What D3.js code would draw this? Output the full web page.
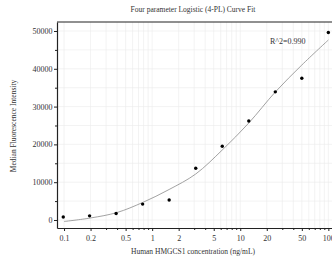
<!DOCTYPE html>
<html lang="en">
<head>
<meta charset="UTF-8">
<title>4-PL Curve Fit</title>
<style>
    body { margin: 0; background: #fff; }
    text { font-family: "Liberation Serif", "DejaVu Serif", serif; fill: #333; }
    .grid line { stroke: #ebebeb; stroke-width: 0.6px; }
    .axis path, .axis line { stroke: #222; }
    .axis text { fill: #333; }
</style>
</head>
<body>
<div id="chart"></div>
<script src="https://d3js.org/d3.v7.min.js"></script>
<script>
    // standard concentrations (ng/mL) and measured MFI
    var conc = [0.098, 0.195, 0.39, 0.78, 1.56, 3.125, 6.25, 12.5, 25, 50, 100];
    var mfi = [800, 1100, 1700, 4200, 5300, 13700, 19500, 26200, 33900, 37500, 49600];

    // fitted curve
    var fitX = [0.1, 0.2, 0.4, 0.78, 1.56, 3.125, 6.25, 12.5, 25, 50, 100];
    var fitY = [-400, 530, 1980, 4630, 8070, 12170, 18520, 25660, 33860, 41000, 47620];

    var xTicks = [0.1, 0.2, 0.5, 1, 2, 5, 10, 20, 50, 100];
    var yTicks = [0, 10000, 20000, 30000, 40000, 50000];

    var width = 332, height = 264;
    var plot = {left: 57, right: 332, top: 22, bottom: 228};

    var svg = d3.select("#chart").append("svg")
        .attr("width", width)
        .attr("height", height);

    var x = d3.scaleLog().domain([0.0832, 110]).range([plot.left, plot.right]);
    var y = d3.scaleLinear().domain([-2120, 52380]).range([plot.bottom, plot.top]);

    // grid: every 1..9 multiple on x, every 5000 on y
    var xMinor = [];
    [0.1, 1, 10].forEach(function (d) {
        for (var k = 1; k < 10; k++) xMinor.push(+(d * k).toPrecision(3));
    });
    xMinor.push(100);
    var yMinor = d3.range(0, 50001, 5000);

    var grid = svg.append("g").attr("class", "grid");
    grid.selectAll(".gx").data(xMinor).enter().append("line")
        .attr("x1", function (d) { return x(d); })
        .attr("x2", function (d) { return x(d); })
        .attr("y1", plot.top).attr("y2", plot.bottom);
    grid.selectAll(".gy").data(yMinor).enter().append("line")
        .attr("x1", plot.left).attr("x2", plot.right)
        .attr("y1", function (d) { return y(d); })
        .attr("y2", function (d) { return y(d); });

    // axes
    var xAxis = svg.append("g").attr("class", "axis")
        .attr("transform", "translate(0," + plot.bottom + ")")
        .call(d3.axisBottom(x).tickValues(xTicks).tickFormat(d3.format("~g")).tickSize(3).tickSizeOuter(0));
    svg.append("g").attr("class", "axis")
        .attr("transform", "translate(0," + plot.bottom + ")")
        .call(d3.axisBottom(x).tickValues(xMinor.filter(function (d) {
            return xTicks.indexOf(d) < 0;
        })).tickFormat("").tickSize(2).tickSizeOuter(0))
        .select(".domain").remove();
    var yAxis = svg.append("g").attr("class", "axis")
        .attr("transform", "translate(" + plot.left + ",0)")
        .call(d3.axisLeft(y).tickValues(yTicks).tickSize(3).tickFormat(d3.format("d")).tickSizeOuter(0));
    svg.append("g").attr("class", "axis")
        .attr("transform", "translate(" + plot.left + ",0)")
        .call(d3.axisLeft(y).tickValues(d3.range(5000, 50000, 10000)).tickSize(2).tickFormat("").tickSizeOuter(0))
        .select(".domain").remove();

    svg.selectAll(".axis text").style("font-size", "8px").style("font-family", "Liberation Serif");
    xAxis.selectAll("text").attr("dy", "0.9em");
    yAxis.selectAll("text").attr("x", -4.5);
    svg.selectAll(".axis path.domain").attr("stroke-width", 1.2);

    // top border
    svg.append("line")
        .attr("x1", plot.left).attr("x2", plot.right)
        .attr("y1", plot.top).attr("y2", plot.top)
        .attr("stroke", "#222").attr("stroke-width", 1.2);

    // fitted curve
    var pts = fitX.map(function (d, i) { return [d, fitY[i]]; });
    svg.append("path")
        .datum(pts)
        .attr("fill", "none")
        .attr("stroke", "#8a8a8a")
        .attr("stroke-width", 0.8)
        .attr("d", d3.line()
            .x(function (d) { return x(d[0]); })
            .y(function (d) { return y(d[1]); })
            .curve(d3.curveCatmullRom));

    // data points
    svg.selectAll(".dot")
        .data(conc)
        .enter().append("circle")
        .attr("cx", function (d) { return x(d); })
        .attr("cy", function (d, i) { return y(mfi[i]); })
        .attr("r", 1.7)
        .attr("fill", "#000");

    svg.append("text")
        .attr("x", 270).attr("y", 44)
        .style("font-size", "8px")
        .text("R^2=0.990");

    svg.append("text")
        .attr("x", 193).attr("y", 12)
        .attr("text-anchor", "middle")
        .style("font-size", "7.5px")
        .text("Four parameter Logistic (4-PL) Curve Fit");

    svg.append("text")
        .attr("x", 193).attr("y", 254)
        .attr("text-anchor", "middle")
        .style("font-size", "7.5px")
        .text("Human HMGCS1 concentration (ng/mL)");

    svg.append("text")
        .attr("transform", "translate(16,126) rotate(-90)")
        .attr("text-anchor", "middle")
        .style("font-size", "7.5px")
        .text("Median Fluorescence Intensity");
</script>
</body>
</html>
